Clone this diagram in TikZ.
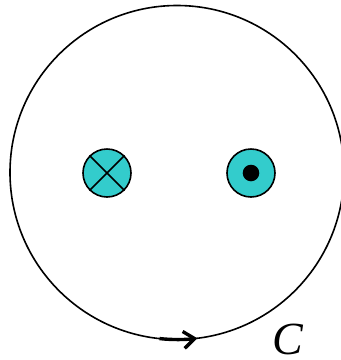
\documentclass[tikz,border=0pt]{standalone}
\usepackage{fontspec}
\setmainfont{Liberation Serif}
\usetikzlibrary{arrows.meta}
\definecolor{wire}{HTML}{33CCCC}

\begin{document}
\begin{tikzpicture}[x=1pt,y=-1pt,line width=1.6pt]
      \tikzset{
        cond/.style={circle,draw=black,fill=wire,minimum size=48pt,inner sep=0pt},
        loop/.style={draw=black,line width=1.6pt},
        tip/.style={line width=3.4pt,-{Straight Barb[length=11pt,width=17pt]}}
      }
      \useasboundingbox (0,0) rectangle (341,360);
      \coordinate (o) at (177,172.5);
      \draw[loop] (o) circle[radius=167];

      \node[cond] (into) at (107,173) {};
      \draw (into.north west)--(into.south east);
      \draw (into.north east)--(into.south west);

      \node[cond] (outof) at (251,173) {};
      \fill (outof.center) circle[radius=8.3];

      \draw[tip] (o) ++(96:167) arc[start angle=96,end angle=83,radius=167];
      \node[font=\itshape,scale=4.6,inner sep=0pt] (c) at (288,339) {C};
    \end{tikzpicture}
\end{document}
